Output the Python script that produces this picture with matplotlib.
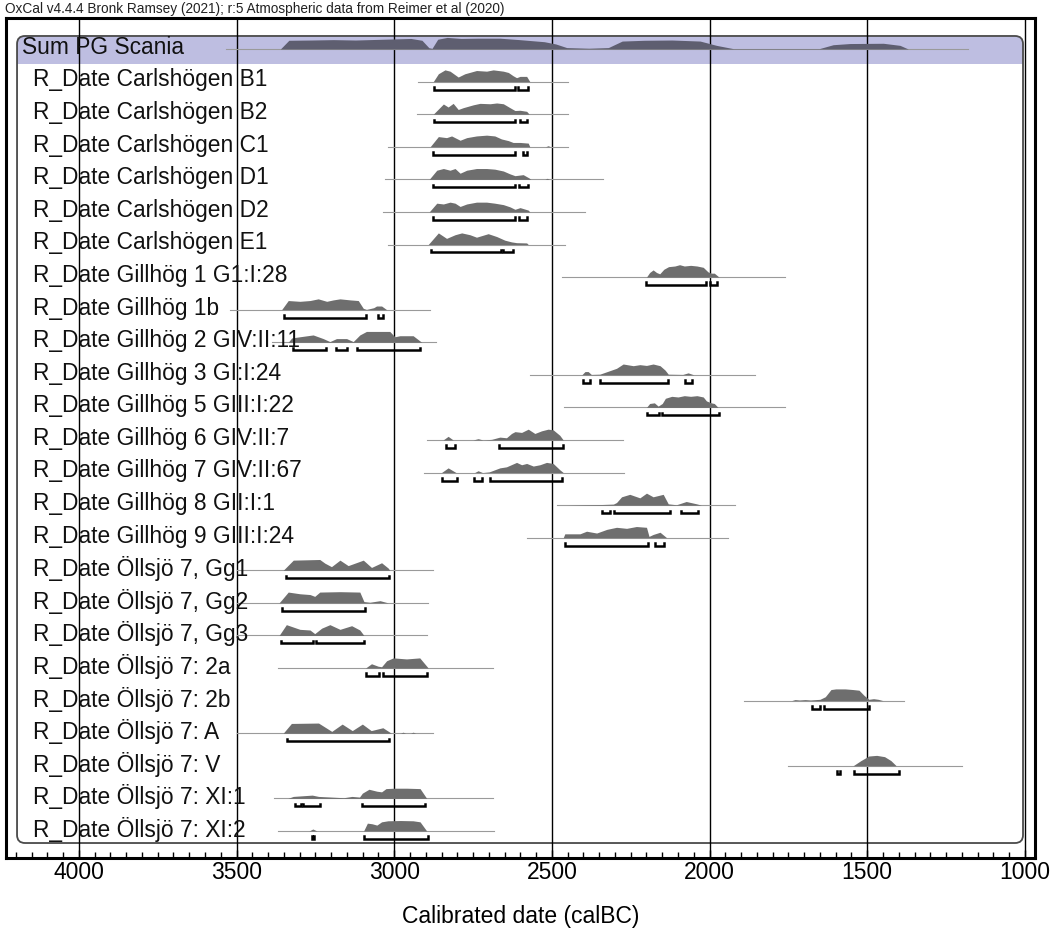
import numpy as np
import matplotlib
matplotlib.use('Agg')
import matplotlib.pyplot as plt
from matplotlib.patches import FancyBboxPatch, Rectangle
from matplotlib.transforms import IdentityTransform
from matplotlib.ticker import MultipleLocator

plt.rcParams['font.family'] = ['Liberation Sans', 'DejaVu Sans']

# DATA (calBC)
labels = ['Sum PG Scania',
          'R_Date Carlshögen B1', 'R_Date Carlshögen B2', 'R_Date Carlshögen C1',
          'R_Date Carlshögen D1', 'R_Date Carlshögen D2', 'R_Date Carlshögen E1',
          'R_Date Gillhög 1 G1:I:28', 'R_Date Gillhög 1b', 'R_Date Gillhög 2 GIV:II:11',
          'R_Date Gillhög 3 GI:I:24', 'R_Date Gillhög 5 GIII:I:22', 'R_Date Gillhög 6 GIV:II:7',
          'R_Date Gillhög 7 GIV:II:67', 'R_Date Gillhög 8 GII:I:1', 'R_Date Gillhög 9 GIII:I:24',
          'R_Date Öllsjö 7, Gg1', 'R_Date Öllsjö 7, Gg2', 'R_Date Öllsjö 7, Gg3',
          'R_Date Öllsjö 7: 2a', 'R_Date Öllsjö 7: 2b', 'R_Date Öllsjö 7: A',
          'R_Date Öllsjö 7: V', 'R_Date Öllsjö 7: XI:1', 'R_Date Öllsjö 7: XI:2']

line_from = [3532, 2924, 2927, 3019, 3030, 3035, 3019, 2469, 3521, 3389, 2570, 2463, 2897,
             2906, 2485, 2580, 3500, 3500, 3500, 3368, 1891, 3497, 1751, 3380, 3369]
line_to = [1180, 2448, 2448, 2448, 2337, 2395, 2459, 1761, 2887, 2866, 1856, 1761, 2276,
           2272, 1919, 1941, 2876, 2892, 2897, 2688, 1382, 2876, 1200, 2688, 2684]

prof_years = [
    [3361, 3334, 3264, 3193, 3123, 3035, 2947, 2912, 2890, 2880, 2862, 2832, 2788, 2735, 2665,
     2603, 2524, 2488, 2453, 2383, 2321, 2277, 2207, 2119, 2030, 1978, 1925, 1652, 1608, 1555,
     1449, 1396, 1370],
    [2876, 2860, 2839, 2823, 2797, 2776, 2739, 2707, 2686, 2654, 2638, 2623, 2612, 2601, 2580, 2570],
    [2876, 2844, 2829, 2813, 2797, 2781, 2749, 2728, 2696, 2675, 2654, 2633, 2617, 2601, 2580, 2572],
    [2886, 2860, 2834, 2818, 2791, 2770, 2739, 2707, 2681, 2660, 2638, 2623, 2601, 2575, 2570,
     2520, 2512, 2504],
    [2889, 2865, 2844, 2823, 2807, 2791, 2770, 2739, 2707, 2681, 2654, 2633, 2617, 2591, 2572,
     2567, 2522, 2515, 2508],
    [2889, 2865, 2844, 2823, 2807, 2791, 2770, 2739, 2707, 2681, 2654, 2633, 2617, 2601, 2575, 2570],
    [2892, 2860, 2834, 2807, 2786, 2760, 2739, 2702, 2675, 2649, 2628, 2612, 2580, 2575],
    [2200, 2190, 2179, 2168, 2158, 2145, 2130, 2110, 2095, 2080, 2060, 2040, 2020, 2005, 1995,
     1985, 1970],
    [3357, 3336, 3299, 3267, 3241, 3214, 3193, 3172, 3140, 3114, 3098, 3088, 3065, 3056, 3040, 3024],
    [3336, 3325, 3299, 3257, 3225, 3204, 3183, 3151, 3130, 3109, 3088, 3014, 2998, 2982, 2940, 2913],
    [2405, 2395, 2385, 2375, 2348, 2295, 2274, 2242, 2221, 2200, 2179, 2157, 2141, 2131, 2085,
     2068, 2050],
    [2200, 2190, 2175, 2163, 2150, 2140, 2120, 2100, 2080, 2060, 2040, 2020, 2010, 1995, 1985, 1973],
    [2845, 2829, 2813, 2750, 2734, 2718, 2691, 2665, 2644, 2628, 2617, 2596, 2575, 2554, 2533,
     2512, 2496, 2475, 2464],
    [2850, 2829, 2804, 2745, 2734, 2720, 2699, 2665, 2644, 2612, 2596, 2580, 2559, 2538, 2517,
     2496, 2475, 2464],
    [2453, 2400, 2340, 2305, 2295, 2279, 2253, 2221, 2200, 2179, 2147, 2131, 2105, 2074, 2041, 2026],
    [2464, 2459, 2411, 2390, 2358, 2326, 2295, 2263, 2232, 2200, 2192, 2179, 2157, 2136],
    [3352, 3320, 3236, 3220, 3199, 3172, 3146, 3098, 3072, 3040, 3019, 3014],
    [3365, 3336, 3299, 3267, 3252, 3236, 3172, 3109, 3096, 3077, 3045, 3019],
    [3365, 3342, 3299, 3267, 3252, 3230, 3204, 3172, 3135, 3109, 3096],
    [3091, 3072, 3051, 3040, 3024, 3003, 2961, 2919, 2892],
    [1740, 1729, 1715, 1697, 1680, 1650, 1633, 1615, 1600, 1570, 1545, 1526, 1510, 1495, 1480,
     1465, 1450],
    [3352, 3326, 3240, 3198, 3165, 3133, 3101, 3073, 3036, 3009, 2980, 2972, 2964, 2948, 2940, 2932],
    [1545, 1520, 1495, 1470, 1445, 1425, 1408],
    [3337, 3320, 3290, 3260, 3240, 3200, 3160, 3134, 3110, 3101, 3080, 3055, 3040, 3026, 3000,
     2960, 2918, 2897],
    [3270, 3258, 3245, 3097, 3085, 3070, 3055, 3040, 3020, 2980, 2940, 2918, 2897],
]
prof_heights = [
    [0, 0.67, 0.69, 0.72, 0.69, 0.75, 0.81, 0.67, 0.1, 0.05, 0.75, 0.89, 0.81, 0.83, 0.83,
     0.72, 0.56, 0.39, 0.11, 0.06, 0.11, 0.61, 0.67, 0.69, 0.61, 0.28, 0.03, 0.03, 0.33, 0.42,
     0.44, 0.28, 0],
    [0, 0.6, 0.9, 0.8, 0.35, 0.6, 0.85, 0.8, 0.9, 0.8, 0.7, 0.45, 0.3, 0.4, 0.4, 0],
    [0, 0.78, 0.55, 0.83, 0.36, 0.5, 0.72, 0.83, 0.8, 0.86, 0.8, 0.5, 0.28, 0.3, 0.22, 0],
    [0, 0.78, 0.7, 0.83, 0.5, 0.7, 0.83, 0.89, 0.83, 0.6, 0.47, 0.33, 0.33, 0.28, 0, 0, 0.08, 0],
    [0, 0.7, 0.83, 0.7, 0.83, 0.47, 0.7, 0.83, 0.83, 0.78, 0.64, 0.42, 0.28, 0.36, 0.1, 0, 0,
     0.08, 0],
    [0, 0.67, 0.61, 0.75, 0.67, 0.42, 0.61, 0.75, 0.75, 0.67, 0.56, 0.39, 0.2, 0.33, 0.14, 0],
    [0, 0.89, 0.47, 0.75, 0.89, 0.75, 0.56, 0.83, 0.61, 0.33, 0.2, 0.14, 0.12, 0],
    [0, 0.35, 0.55, 0.35, 0.25, 0.6, 0.8, 0.85, 0.95, 0.85, 0.9, 0.85, 0.75, 0.4, 0.3, 0.3, 0],
    [0, 0.7, 0.64, 0.7, 0.83, 0.64, 0.75, 0.83, 0.75, 0.7, 0.1, 0.02, 0.15, 0.28, 0.28, 0],
    [0, 0.33, 0.42, 0.56, 0.28, 0.05, 0.28, 0.28, 0.05, 0.56, 0.83, 0.83, 0.42, 0.5, 0.5, 0],
    [0, 0.25, 0.25, 0.03, 0.05, 0.5, 0.83, 0.7, 0.78, 0.72, 0.83, 0.7, 0.36, 0.05, 0.03, 0.15, 0],
    [0, 0.3, 0.35, 0.1, 0.3, 0.7, 0.85, 0.8, 0.9, 0.85, 0.9, 0.8, 0.5, 0.35, 0.3, 0],
    [0, 0.28, 0, 0, 0.1, 0, 0.05, 0.22, 0.17, 0.5, 0.64, 0.58, 0.83, 0.5, 0.7, 0.83, 0.78, 0.36, 0],
    [0, 0.36, 0, 0, 0.14, 0, 0.05, 0.36, 0.44, 0.78, 0.6, 0.7, 0.5, 0.6, 0.78, 0.7, 0.22, 0],
    [0, 0.03, 0.05, 0.08, 0.2, 0.64, 0.83, 0.56, 0.92, 0.64, 0.83, 0.1, 0.03, 0.28, 0.1, 0],
    [0, 0.3, 0.3, 0.5, 0.36, 0.64, 0.8, 0.72, 0.86, 0.8, 0.1, 0.25, 0.42, 0],
    [0, 0.78, 0.83, 0.55, 0.28, 0.78, 0.36, 0.78, 0.22, 0.58, 0.17, 0],
    [0, 0.83, 0.7, 0.64, 0.5, 0.83, 0.86, 0.83, 0.1, 0.05, 0.17, 0],
    [0, 0.83, 0.47, 0.42, 0.14, 0.56, 0.83, 0.47, 0.75, 0.42, 0],
    [0, 0.33, 0.14, 0.1, 0.56, 0.78, 0.7, 0.78, 0],
    [0, 0.08, 0.05, 0.08, 0.05, 0.1, 0.3, 0.85, 0.9, 0.9, 0.85, 0.8, 0.4, 0.1, 0.15, 0.1, 0],
    [0, 0.75, 0.78, 0.14, 0.7, 0.2, 0.7, 0.2, 0.42, 0, 0, 0.08, 0, 0, 0.08, 0],
    [0, 0.4, 0.75, 0.8, 0.7, 0.4, 0],
    [0, 0.15, 0.2, 0.25, 0.15, 0.1, 0.05, 0.15, 0.1, 0.4, 0.7, 0.55, 0.5, 0.75, 0.78, 0.78, 0.75, 0],
    [0, 0.15, 0, 0, 0.6, 0.55, 0.45, 0.7, 0.78, 0.8, 0.78, 0.7, 0],
]

# 95.4% ranges
ranges95 = [
    [],
    [(2873, 2617), (2607, 2576)],
    [(2873, 2617), (2601, 2580)],
    [(2878, 2617), (2593, 2580)],
    [(2878, 2617), (2604, 2575)],
    [(2878, 2617), (2604, 2580)],
    [(2882, 2660), (2654, 2623)],
    [(2200, 2010), (2000, 1975)],
    [(3350, 3090), (3051, 3035)],
    [(3322, 3217), (3183, 3151), (3117, 2918)],
    [(2400, 2379), (2348, 2131), (2078, 2057)],
    [(2198, 2160), (2151, 1969)],
    [(2837, 2808), (2668, 2464)],
    [(2847, 2802), (2747, 2721), (2696, 2467)],
    [(2340, 2316), (2303, 2124), (2091, 2038)],
    [(2457, 2195), (2173, 2144)],
    [(3342, 3016)],
    [(3356, 3093)],
    [(3359, 3257), (3248, 3095)],
    [(3090, 3048), (3035, 2895)],
    [(1676, 1650), (1637, 1495)],
    [(3341, 3015)],
    [(1595, 1587), (1541, 1398)],
    [(3316, 3294), (3288, 3236), (3101, 2902)],
    [(3262, 3254), (3097, 2893)],
]

# FIGURE
fig = plt.figure(figsize=(10.59, 9.34), dpi=100)
ax = fig.add_axes([6 / 1059, 1 - 858 / 934, 1029 / 1059, 840 / 934])
ax.set_xlim(4231, 968)
ax.set_ylim(24.88, -0.902)

peak = 0.4        # row units for relative height 1
bar_off = 0.245
cap = 0.08

# rounded box and lavender band for the sum (drawn in pixels)
(bx0, by0), (bx1, by1) = ax.transData.transform([(4196, 24.42), (1006, -0.35)])
band_y = ax.transData.transform((0, 0.5))[1]
rad = 8
band = FancyBboxPatch((bx0, band_y - 20), bx1 - bx0, by1 - band_y + 20,
                      boxstyle='round,pad=0,rounding_size=%d' % rad,
                      transform=IdentityTransform(), fc='#bebee1', ec='none', zorder=0.2)
ax.add_patch(band)
ax.add_patch(Rectangle((bx0, band_y - 20), bx1 - bx0, 20, transform=IdentityTransform(),
                       fc='white', ec='none', zorder=0.25))
ax.add_patch(FancyBboxPatch((bx0, by0), bx1 - bx0, by1 - by0,
                            boxstyle='round,pad=0,rounding_size=%d' % rad,
                            transform=IdentityTransform(), fc='none', ec='#4a4a4a',
                            lw=1.3, zorder=0.3))

for i, lab in enumerate(labels):
    base = i + 0.05
    ax.plot([line_from[i], line_to[i]], [base, base], color='#9a9a9a', lw=0.8, zorder=2)
    yrs = np.array(prof_years[i])
    hts = np.array(prof_heights[i])
    col = '#5e5e70' if i == 0 else '#6e6e6e'
    ax.fill_between(yrs, base - hts * peak, base, color=col, lw=0, zorder=2.2)
    yb = base + bar_off
    for s, e in ranges95[i]:
        ax.plot([s, s, e, e], [yb - cap, yb, yb, yb - cap], color='black', lw=1.8,
                solid_joinstyle='miter', zorder=2.4)
    ax.text(0.0155 if i == 0 else 0.0262, i, lab, transform=ax.get_yaxis_transform(),
            ha='left', va='center', fontsize=16.4, color='#111111', zorder=3)

# axis styling
ax.xaxis.set_major_locator(MultipleLocator(500))
ax.xaxis.set_minor_locator(MultipleLocator(50))
ax.grid(axis='x', which='major', color='black', lw=1.0)
ax.tick_params(axis='x', which='both', direction='in', top=False, width=1, labelsize=16.5, pad=2)
ax.tick_params(axis='x', which='major', length=6)
ax.tick_params(axis='x', which='minor', length=4)
ax.set_yticks([])
for sp in ax.spines.values():
    sp.set_linewidth(2.2)
ax.set_xlabel('Calibrated date (calBC)', fontsize=16.5, labelpad=15)

fig.text(5 / 1059, 1 - 9 / 934, 'OxCal v4.4.4 Bronk Ramsey (2021); r:5 Atmospheric data from Reimer et al (2020)',
         fontsize=9.8, ha='left', va='center', color='#222222')

fig.savefig('out.png', dpi=100)
